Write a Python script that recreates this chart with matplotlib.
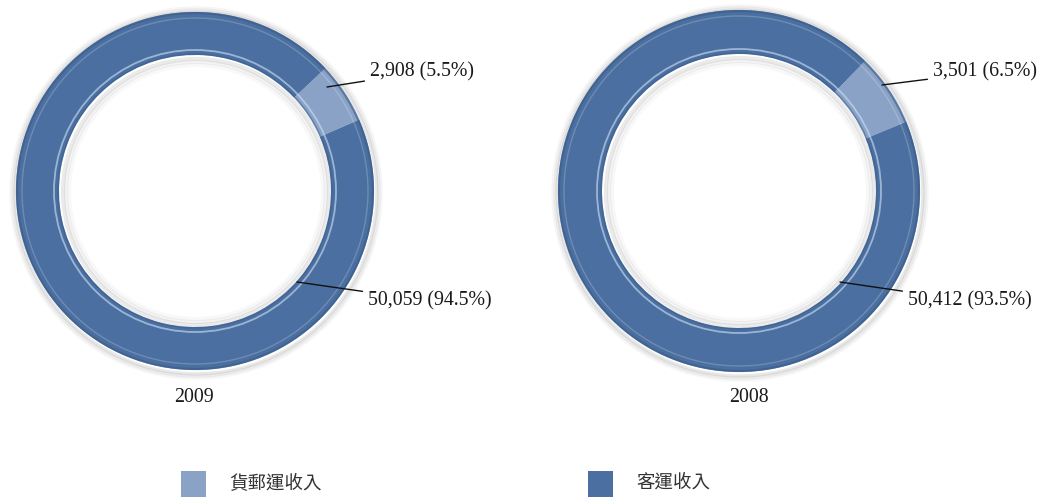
import matplotlib
matplotlib.use("Agg")
import matplotlib.pyplot as plt
from matplotlib.patches import Circle, Rectangle

# ---- data ----
years = ["2009", "2008"]
categories = ["貨郵運收入", "客運收入"]
freight = [2908, 3501]
passenger = [50059, 50412]
freight_pct = ["5.5%", "6.5%"]
passenger_pct = ["94.5%", "93.5%"]

# ---- styles ----
W, H = 1046, 497
c_freight = "#8AA2C6"
c_pass = "#4A6FA0"
txt_col = "#1a1a1a"
serif = ["Liberation Serif", "DejaVu Serif"]
cjk = ["Noto Sans CJK TC", "DejaVu Sans"]

fig = plt.figure(figsize=(W / 100, H / 100), dpi=100)
ax = fig.add_axes([0, 0, 1, 1])
ax.set_xlim(0, W)
ax.set_ylim(0, H)
ax.axis("off")

def Y(y):
    return H - y

# layout per donut (pixel coords from top-left)
layouts = [
    dict(cx=195, cy=191, r_out=179, r_in=136, start=23.5,
         f_xy=(327, 87), f_txt=(370, 72), p_xy=(297, 282), p_txt=(368, 301),
         year_xy=(194, 397)),
    dict(cx=739, cy=191, r_out=181, r_in=137, start=22.5,
         f_xy=(882, 85), f_txt=(933, 72), p_xy=(840, 282), p_txt=(908, 301),
         year_xy=(749, 397)),
]

for i, L in enumerate(layouts):
    cx, cy = L["cx"], Y(L["cy"])
    ro, ri = L["r_out"], L["r_in"]
    w = ro - ri
    # soft outer shadow
    for k, a in [(6, 0.05), (4, 0.08), (2, 0.14)]:
        ax.add_patch(Circle((cx + 1, cy - 2), ro + k, fill=False,
                            edgecolor="#555555", lw=2.5, alpha=a, zorder=1))
    # inner shadow
    for k, a in [(3, 0.12), (6, 0.07), (9, 0.04)]:
        ax.add_patch(Circle((cx + 1, cy - 1), ri - k, fill=False,
                            edgecolor="#555555", lw=3, alpha=a, zorder=1))
    ax.pie([freight[i], passenger[i]], colors=[c_freight, c_pass],
           startangle=L["start"], counterclock=True, center=(cx, cy),
           radius=ro, wedgeprops=dict(width=w, edgecolor="none", zorder=2),
           frame=True)
    # 3D-ish highlights
    ax.add_patch(Circle((cx, cy), ro - 1, fill=False, edgecolor="#3b5c88",
                        lw=1.6, alpha=0.6, zorder=3))
    ax.add_patch(Circle((cx, cy), ro - 6, fill=False, edgecolor="#ffffff",
                        lw=1.0, alpha=0.2, zorder=3))
    ax.add_patch(Circle((cx, cy), ri + 5, fill=False, edgecolor="#c9dbf3",
                        lw=1.3, alpha=0.65, zorder=3))
    ax.add_patch(Circle((cx, cy), ri + 1, fill=False, edgecolor="#3b5c88",
                        lw=1.0, alpha=0.5, zorder=3))

    # labels
    fx, fy = L["f_xy"]
    tx, ty = L["f_txt"]
    ax.annotate(f"{freight[i]:,} ({freight_pct[i]})", xy=(fx, Y(fy)),
                xytext=(tx, Y(ty)), ha="left", va="center",
                fontsize=14.3, family=serif, color=txt_col,
                arrowprops=dict(arrowstyle="-", color="#111111", lw=1.0,
                                shrinkA=2, shrinkB=0), zorder=5)
    px, py = L["p_xy"]
    tx, ty = L["p_txt"]
    ax.annotate(f"{passenger[i]:,} ({passenger_pct[i]})", xy=(px, Y(py)),
                xytext=(tx, Y(ty)), ha="left", va="center",
                fontsize=14.3, family=serif, color=txt_col,
                arrowprops=dict(arrowstyle="-", color="#111111", lw=1.0,
                                shrinkA=2, shrinkB=0), zorder=5)
    yx, yy = L["year_xy"]
    ax.text(yx, Y(yy), years[i], ha="center", va="center", fontsize=14.3,
            family=serif, color=txt_col)

ax.set_xlim(0, W)
ax.set_ylim(0, H)
ax.set_aspect("auto")

# legend
leg_items = [(181, c_freight, categories[0]), (588, c_pass, categories[1])]
for x0, col, lab in leg_items:
    ax.add_patch(Rectangle((x0, Y(497)), 25, 26, facecolor=col,
                           edgecolor="none"))
    ax.text(x0 + 48, Y(483), lab, ha="left", va="center", fontsize=13.3,
            family=cjk, color="#333333", fontweight="light")

fig.savefig("out.png", dpi=100)
